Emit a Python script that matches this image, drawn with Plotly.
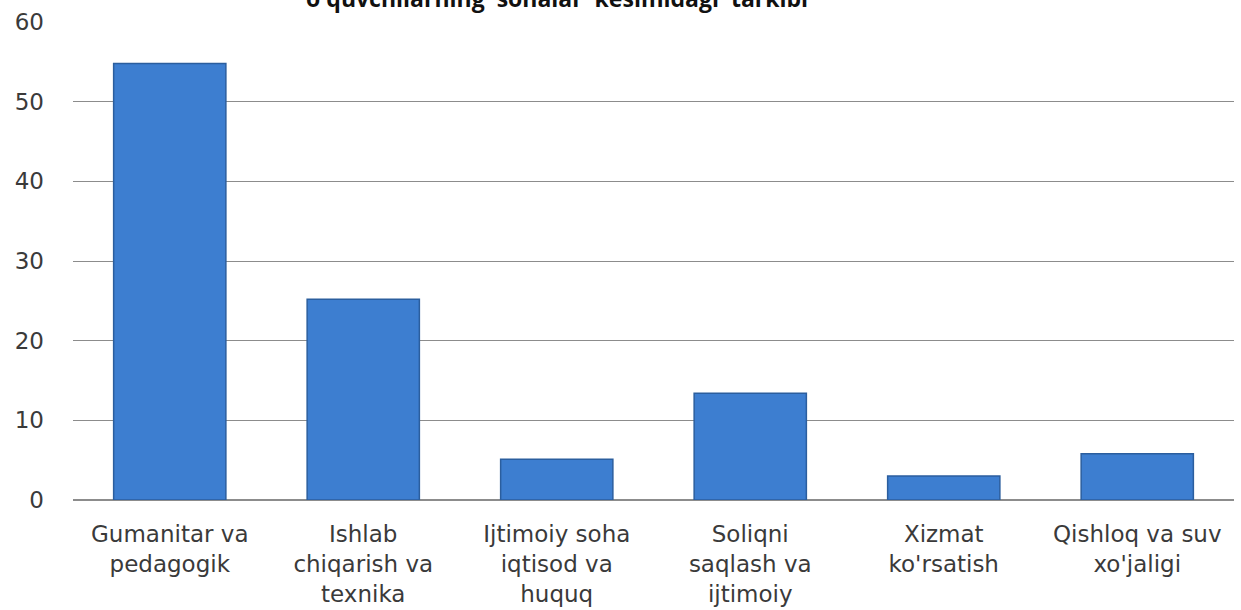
import plotly.graph_objects as go

categories = [
    "Gumanitar va<br>pedagogik",
    "Ishlab<br>chiqarish va<br>texnika",
    "Ijtimoiy soha<br>iqtisod va<br>huquq",
    "Soliqni<br>saqlash va<br>ijtimoiy",
    "Xizmat<br>ko'rsatish",
    "Qishloq va suv<br>xo'jaligi",
]
values = [54.8, 25.2, 5.1, 13.4, 3.0, 5.8]
y_ticks = [0, 10, 20, 30, 40, 50, 60]
title_text = "o'quvchilarning  sohalar  kesimidagi  tarkibi"

fig = go.Figure()
fig.add_trace(go.Bar(
    x=categories,
    y=values,
    marker=dict(color="#3D7ED0", line=dict(color="#2B5E9E", width=1.5)),
    width=0.58,
    hoverinfo="x+y",
))

fig.update_layout(
    width=1241,
    height=610,
    margin=dict(l=73, r=7, t=22, b=110, autoexpand=False),
    paper_bgcolor="white",
    plot_bgcolor="white",
    showlegend=False,
    font=dict(family="DejaVu Sans", color="#3A3A3A"),
    annotations=[dict(
        text="<b>" + title_text + "</b>",
        xref="paper", yref="paper",
        x=0.417, y=1.012,
        xanchor="center", yanchor="bottom",
        showarrow=False,
        font=dict(family="Open Sans", size=23, color="#111111"),
    )],
)
fig.update_xaxes(
    tickfont=dict(size=23, color="#3A3A3A"),
    showgrid=False,
    showline=False,
    ticks="",
    ticklabelstandoff=18,
    automargin=False,
)
fig.update_yaxes(
    range=[0, 60],
    tickvals=y_ticks,
    tickfont=dict(size=23, color="#3A3A3A"),
    showgrid=True,
    gridcolor="#8C8C8C",
    gridwidth=1,
    zeroline=True,
    zerolinecolor="#8C8C8C",
    zerolinewidth=1.5,
    showline=False,
    ticks="",
    ticklabelstandoff=28,
    automargin=False,
)

fig.write_html(
    "out.html",
    config={"displayModeBar": False},
    post_script="document.body.style.margin='0';document.body.style.overflow='hidden';",
)
